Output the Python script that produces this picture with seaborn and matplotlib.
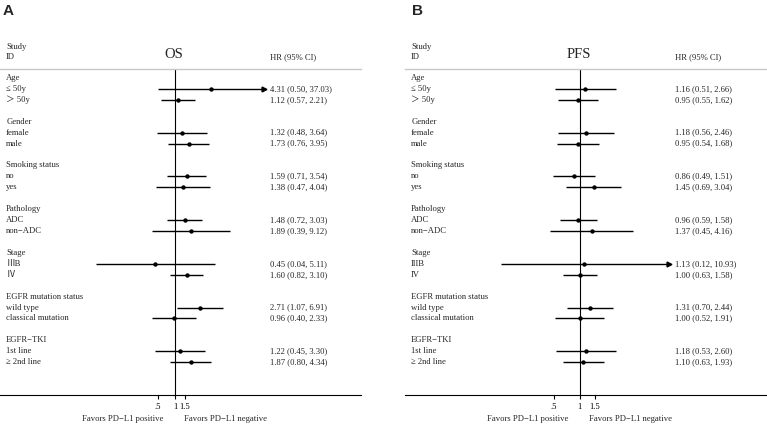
import numpy as np
import pandas as pd
import matplotlib
matplotlib.use("Agg")
import matplotlib.pyplot as plt
import matplotlib.transforms as mtransforms
import seaborn as sns

# ------------------------
# Data
# ------------------------
groups = ['Age', 'Gender', 'Smoking status', 'Pathology', 'Stage',
          'EGFR mutation status', 'EGFR\u2212TKI']

labels_os = ['\u2264 50y', '\uff1e 50y', 'female', 'male', 'no', 'yes',
             'ADC', 'non\u2212ADC', '\u2162B', '\u2163', 'wild type',
             'classical mutation', '1st line', '\u2265 2nd line']
labels_pfs = ['\u2264 50y', '\uff1e 50y', 'female', 'male', 'no', 'yes',
              'ADC', 'non\u2212ADC', 'IIIB', 'IV', 'wild type',
              'classical mutation', '1st line', '\u2265 2nd line']

os_hr = [4.31, 1.12, 1.32, 1.73, 1.59, 1.38, 1.48, 1.89, 0.45, 1.60, 2.71, 0.96, 1.22, 1.87]
os_lo = [0.50, 0.57, 0.48, 0.76, 0.71, 0.47, 0.72, 0.39, 0.04, 0.82, 1.07, 0.40, 0.45, 0.80]
os_hi = [37.03, 2.21, 3.64, 3.95, 3.54, 4.04, 3.03, 9.12, 5.11, 3.10, 6.91, 2.33, 3.30, 4.34]

pfs_hr = [1.16, 0.95, 1.18, 0.95, 0.86, 1.45, 0.96, 1.37, 1.13, 1.00, 1.31, 1.00, 1.18, 1.10]
pfs_lo = [0.51, 0.55, 0.56, 0.54, 0.49, 0.69, 0.59, 0.45, 0.12, 0.63, 0.70, 0.52, 0.53, 0.63]
pfs_hi = [2.66, 1.62, 2.46, 1.68, 1.51, 3.04, 1.58, 4.16, 10.93, 1.58, 2.44, 1.91, 2.60, 1.93]

tick_vals = [0.5, 1, 1.5]
tick_labels = ['.5', '1', '1.5']

sns.set_theme(style='white')
plt.rcParams['font.family'] = ['Liberation Serif', 'Noto Sans CJK SC', 'DejaVu Sans']
plt.rcParams['axes.unicode_minus'] = True

W, H = 767, 424
fig = plt.figure(figsize=(W / 100, H / 100), dpi=100)

FS = 6.2
ROW0, ROWH = 78, 10.93          # pixel y of first row, pixel row height
Y_TOP, Y_BOT = 69, 395          # separator line and bottom axis (pixels)


def px_to_row(y):
    return (y - ROW0) / ROWH


def forest(left_px, title, labels, hr, lo, hi):
    ax = fig.add_axes([left_px / W, 1 - Y_BOT / H, 361 / W, (Y_BOT - Y_TOP) / H])
    ax.set_xscale('log')

    # row positions: header, two subgroups, blank
    rows, label_rows = [], []
    for gi, g in enumerate(groups):
        label_rows.append((gi * 4, g))
        rows += [gi * 4 + 1, gi * 4 + 2]
    for r, lab in zip(rows, labels):
        label_rows.append((r, lab))

    df = pd.DataFrame({'row': rows, 'hr': hr, 'lo': lo, 'hi': hi})
    df['arrow'] = df['hi'] == df['hi'].max()

    # x range: data span sits between 26.5% and 73.2% of the axis width
    lmin, lmax = np.log(df['lo'].min()), np.log(df['hi'].max())
    span = (lmax - lmin) / (0.732 - 0.265)
    ax.set_xlim(np.exp(lmin - 0.265 * span), np.exp(lmin - 0.265 * span + span))
    ax.set_ylim(px_to_row(Y_BOT), px_to_row(Y_TOP))

    ax.axvline(1, color='black', lw=0.8, zorder=1)
    ax.hlines(df['row'], df['lo'], df['hi'], color='black', lw=1.0, zorder=2)
    arr = df[df['arrow']]
    ax.plot(arr['hi'], arr['row'], linestyle='none', marker='>', ms=3.5,
            color='black', zorder=3)
    sns.scatterplot(data=df, x='hr', y='row', ax=ax, color='black', s=10,
                    edgecolor='black', linewidth=0, zorder=4, legend=False)

    trans = mtransforms.blended_transform_factory(ax.transAxes, ax.transData)
    for r, lab in label_rows:
        ax.text(0.017, r, lab, transform=trans, fontsize=FS, va='center', ha='left')
    for r, h, l, u in zip(rows, hr, lo, hi):
        ax.text(0.749, r, f"{h:.2f} ({l:.2f}, {u:.2f})", transform=trans,
                fontsize=FS, va='center', ha='left')

    # header
    ax.text(0.017, px_to_row(47), 'Study', transform=trans, fontsize=FS, va='center')
    ax.text(0.017, px_to_row(57), 'ID', transform=trans, fontsize=FS, va='center')
    ax.text(0.749, px_to_row(57), 'HR (95% CI)', transform=trans, fontsize=FS, va='center')
    ax.text(0.482, px_to_row(55), title, transform=trans, fontsize=10.5,
            va='center', ha='center')

    # favors labels
    yf = px_to_row(419)
    ax.annotate('Favors PD\u2212L1 positive', xy=(1, yf), xytext=(-8.5, 0),
                textcoords='offset points', ha='right', va='center',
                fontsize=FS, annotation_clip=False)
    ax.annotate('Favors PD\u2212L1 negative', xy=(1, yf), xytext=(6.5, 0),
                textcoords='offset points', ha='left', va='center',
                fontsize=FS, annotation_clip=False)

    ax.set_xticks(tick_vals)
    ax.set_xticklabels(tick_labels)
    ax.minorticks_off()
    ax.set_yticks([])
    ax.set_xlabel('')
    ax.set_ylabel('')
    ax.tick_params(axis='x', bottom=True, direction='out', length=3, width=0.8,
                   pad=2.5, labelsize=FS, colors='black')
    for s in ['left', 'right']:
        ax.spines[s].set_visible(False)
    ax.spines['top'].set_color('#c8c8c8')
    ax.spines['top'].set_linewidth(1.0)
    ax.spines['bottom'].set_color('black')
    ax.spines['bottom'].set_linewidth(0.8)
    ax.patch.set_alpha(0)
    return ax


forest(0, 'OS', labels_os, os_hr, os_lo, os_hi)
forest(405, 'PFS', labels_pfs, pfs_hr, pfs_lo, pfs_hi)

fig.text(3 / W, 1 - 11 / H, 'A', fontsize=11, fontweight='bold',
         family='Liberation Sans', va='center', ha='left')
fig.text(412 / W, 1 - 11 / H, 'B', fontsize=11, fontweight='bold',
         family='Liberation Sans', va='center', ha='left')

plt.savefig('out.png', dpi=100)
